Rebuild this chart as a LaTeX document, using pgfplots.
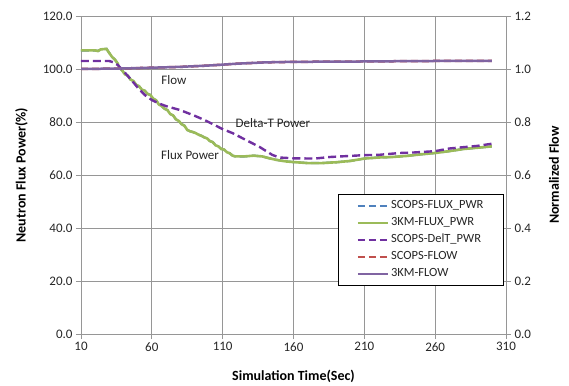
\documentclass[border=0pt]{standalone}
\usepackage{pgfplots}
\pgfplotsset{compat=1.18}
\usepackage{pgfplotstable}
\usepackage{fontspec}
\setmainfont{Carlito}

\definecolor{gridgray}{RGB}{150,150,150}
\definecolor{xlblue}{RGB}{79,129,189}
\definecolor{xlgreen}{RGB}{155,187,89}
\definecolor{xlred}{RGB}{192,80,77}
\definecolor{xlpurple}{RGB}{128,100,162}
\definecolor{deltpurple}{RGB}{112,48,160}
\definecolor{txt}{RGB}{38,38,38}

% Neutron flux power (%)
\pgfplotstableread{
t    p
10   107.0
20   107.0
22   106.8
24   107.4
28   107.6
30   106.0
32   104.5
34   103.5
36   102.0
37   100.5
39   99.5
41   98.0
43   97.5
45   96.0
47   95.5
49   94.0
51   93.5
53   92.2
55   91.8
57   90.6
59   90.2
61   88.8
63   88.2
65   86.6
67   86.0
69   85.0
71   84.5
73   83.0
75   82.5
77   81.0
79   80.4
81   79.2
83   78.6
85   77.0
87   76.5
89   76.2
91   75.8
93   75.2
95   74.8
97   74.2
99   73.8
101  72.8
103  72.4
105  71.2
107  70.8
109  69.8
111  69.6
113  68.6
115  68.2
117  67.3
119  67.0
125  67.0
132  67.3
138  67.0
143  66.3
148  65.7
155  65.1
162  64.8
170  64.5
180  64.5
190  64.8
200  65.3
210  66.2
220  66.6
230  66.8
240  67.2
250  67.8
260  68.3
270  69.0
280  69.8
290  70.3
300  70.8
}\fluxdata

% Delta-T power (%)
\pgfplotstableread{
t    p
10   103.0
30   103.0
33   102.5
36   101.5
40   99.2
45   96.2
50   93.0
55   90.2
60   88.3
65   87.0
70   86.0
80   84.5
90   82.4
97   80.8
103  79.2
110  77.3
117  75.8
125  73.6
136  70.6
145  67.6
150  66.6
160  66.3
175  66.2
186  66.8
200  67.2
210  67.5
220  67.6
235  68.3
245  68.5
260  69.0
270  70.0
280  70.5
290  71.0
300  71.8
}\deltdata

% Normalized coolant flow
\pgfplotstableread{
t    f
10   1.000
40   1.002
60   1.005
80   1.008
100  1.013
120  1.020
140  1.025
160  1.027
200  1.028
250  1.030
300  1.031
}\flowdata

\pgfplotsset{
  base/.style={
    scale only axis, width=425pt, height=318pt,
    xmin=10, xmax=310,
    axis line style={gridgray, line width=0.8pt},
    tick style={gridgray, line width=0.8pt},
    tick align=outside, major tick length=5pt,
    /pgf/number format/assume math mode=true,
    tick label style={font=\fontsize{13}{15}\selectfont, text=txt},
    label style={font=\bfseries\fontsize{14}{16}\selectfont, text=black},
  }
}

\begin{document}
\begin{tikzpicture}
\begin{axis}[base,
  ymin=0, ymax=120,
  xtick={10,60,...,310}, ytick={0,20,...,120},
  xtick pos=bottom, ytick pos=left,
  grid=major, major grid style={gridgray, line width=0.8pt},
  yticklabel style={/pgf/number format/.cd, fixed, fixed zerofill, precision=1},
  xticklabel style={/pgf/number format/.cd, fixed, precision=0},
  xlabel={Simulation Time(Sec)},
  ylabel={Neutron Flux Power(\%)},
  xlabel style={at={(axis description cs:0.5,-0.132)}, anchor=center},
  ylabel style={at={(axis description cs:-0.14,0.5)}, anchor=center},
]
\addplot[xlblue, line width=2.2pt, dash pattern=on 8pt off 4pt] table[x=t, y=p] {\fluxdata};
\addplot[xlgreen, line width=2.6pt] table[x=t, y=p] {\fluxdata};
\addplot[deltpurple, line width=2.4pt, dash pattern=on 8pt off 4pt] table[x=t, y=p] {\deltdata};
\node[font=\fontsize{13}{15}\selectfont, text=txt] at (axis cs:75.6,95.8) {Flow};
\node[font=\fontsize{13}{15}\selectfont, text=txt] at (axis cs:145.5,79.6) {Delta-T Power};
\node[font=\fontsize{13}{15}\selectfont, text=txt] at (axis cs:87,67.5) {Flux Power};
\end{axis}

\begin{axis}[base,
  ymin=0, ymax=1.2,
  ytick={0,0.2,...,1.2},
  ytick pos=right, axis x line=none,
  axis y line*=right,
  yticklabel style={/pgf/number format/.cd, fixed, fixed zerofill, precision=1},
  ylabel={Normalized Flow},
  ylabel style={at={(axis description cs:1.113,0.5)}, anchor=center, rotate=0},
  legend style={at={(0.995,0.44)}, anchor=north east, draw=black, line width=0.9pt,
    font=\fontsize{12.5}{14}\selectfont, text=txt, row sep=2pt,
    inner xsep=18pt, inner ysep=4pt,
    nodes={text height=8pt, text depth=3pt, inner sep=2pt}},
  legend cell align=left,
  legend image code/.code={\draw[#1] (0pt,0pt) -- (30pt,0pt);},
]
\addlegendimage{xlblue, line width=2.5pt, dash pattern=on 7pt off 4pt}
\addlegendentry{SCOPS-FLUX\_PWR}
\addlegendimage{xlgreen, line width=2.5pt}
\addlegendentry{3KM-FLUX\_PWR}
\addlegendimage{deltpurple, line width=2.5pt, dash pattern=on 7pt off 4pt}
\addlegendentry{SCOPS-DelT\_PWR}
\addplot[xlred, line width=2.5pt, dash pattern=on 7pt off 4pt] table[x=t, y=f] {\flowdata};
\addlegendentry{SCOPS-FLOW}
\addplot[xlpurple, line width=2.5pt] table[x=t, y=f] {\flowdata};
\addlegendentry{3KM-FLOW}
\end{axis}
\pgfresetboundingbox
\path[use as bounding box] (-81pt,-51pt) rectangle (488pt,334pt);
\end{tikzpicture}
\end{document}
